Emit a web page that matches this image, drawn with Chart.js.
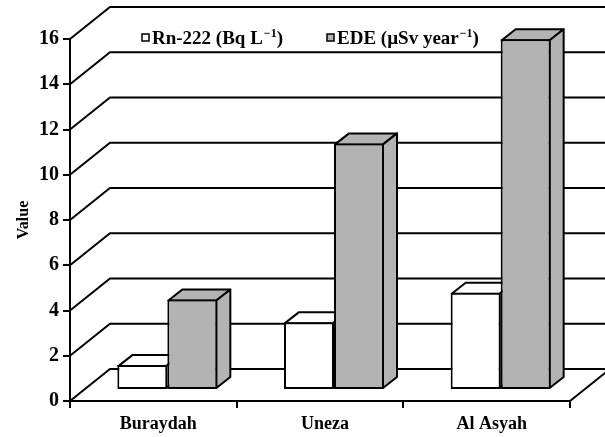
<!DOCTYPE html>
<html>
<head>
<meta charset="utf-8">
<script src="https://cdn.jsdelivr.net/npm/chart.js@4.4.0/dist/chart.umd.min.js"></script>
<style>
html, body { margin: 0; padding: 0; background: #fff; }
</style>
</head>
<body>
<canvas id="chartUI" width="605" height="437"></canvas>
<script>
// Podaci
var categories = ['Buraydah', 'Uneza', 'Al Asyah'];
var rnValues = [1.1, 3.0, 4.3];
var edeValues = [4.0, 10.9, 15.5];
var seriesNames = ['Rn-222 (Bq L', 'EDE (\u00b5Sv year'];
var seriesColors = ['#ffffff', '#b3b3b3'];
var yMin = 0, yMax = 16, yStep = 2;

var FONT = 'Liberation Serif';
var WALL = { dx: 40, dy: -32 };   // dubina zidova
var SHIFT = { dx: 14, dy: -11 };  // ravan prednjih strana stubica
var DEPTH = { dx: 14, dy: -11 };  // debljina stubica

var poly = function(ctx, pts, fill) {
	ctx.beginPath();
	ctx.moveTo(pts[0][0], pts[0][1]);
	for (var i = 1; i < pts.length; i++) ctx.lineTo(pts[i][0], pts[i][1]);
	ctx.closePath();
	ctx.fillStyle = fill;
	ctx.fill();
	ctx.stroke();
}

var drawLegendItem = function(ctx, x, base, color, label) {
	ctx.lineWidth = 1.5;
	ctx.strokeStyle = '#000';
	ctx.fillStyle = color;
	ctx.fillRect(x, base - 10, 7, 7);
	ctx.strokeRect(x, base - 10, 7, 7);
	ctx.fillStyle = '#000';
	ctx.textBaseline = 'alphabetic';
	ctx.textAlign = 'left';
	ctx.font = 'bold 19px "' + FONT + '"';
	var tx = x + 10;
	ctx.fillText(label, tx, base);
	tx += ctx.measureText(label).width;
	ctx.font = 'bold 12px "' + FONT + '"';
	ctx.fillText('\u22121', tx + 1, base - 7);
	tx += ctx.measureText('\u22121').width + 1;
	ctx.font = 'bold 19px "' + FONT + '"';
	ctx.fillText(')', tx, base);
}

// Plugin za 3D izgled
var box3d = {
	id: 'box3d',
	beforeDatasetsDraw: function(chart) {
		var ctx = chart.ctx, a = chart.chartArea, ys = chart.scales.y;
		ctx.save();
		ctx.strokeStyle = '#000';
		ctx.lineWidth = 2;
		ys.ticks.forEach(function(t) {
			var y = ys.getPixelForValue(t.value);
			ctx.beginPath();
			ctx.moveTo(a.left, y);
			ctx.lineTo(a.left + WALL.dx, y + WALL.dy);
			ctx.lineTo(a.right + WALL.dx, y + WALL.dy);
			ctx.stroke();
		});
		ctx.beginPath();
		ctx.moveTo(a.right, a.bottom);
		ctx.lineTo(a.right + WALL.dx, a.bottom + WALL.dy);
		ctx.stroke();

		drawLegendItem(ctx, a.left + 72, 44, seriesColors[0], seriesNames[0]);
		drawLegendItem(ctx, a.left + 257, 44, seriesColors[1], seriesNames[1]);
		ctx.restore();

		// bocne i gornje strane, prednje crta Chart.js
		ctx.save();
		ctx.translate(SHIFT.dx, SHIFT.dy);
		ctx.strokeStyle = '#000';
		ctx.lineWidth = 2;
		ctx.lineJoin = 'round';
		chart.data.datasets.forEach(function(ds, i) {
			chart.getDatasetMeta(i).data.forEach(function(bar) {
				var p = bar.getProps(['x', 'y', 'base', 'width'], true);
				var l = p.x - p.width / 2 + 1, r = p.x + p.width / 2 - 1;
				var t = p.y + 1, b = p.base - 1;
				poly(ctx, [[l, t], [l + DEPTH.dx, t + DEPTH.dy], [r + DEPTH.dx, t + DEPTH.dy], [r, t]], ds.backgroundColor);
				poly(ctx, [[r, t], [r + DEPTH.dx, t + DEPTH.dy], [r + DEPTH.dx, b + DEPTH.dy], [r, b]], ds.backgroundColor);
			});
		});
	},
	afterDatasetsDraw: function(chart) {
		chart.ctx.restore();
	}
};

var makeDataset = function(idx, values) {
	return {
		label: seriesNames[idx],
		data: values,
		backgroundColor: seriesColors[idx],
		borderColor: '#000',
		borderWidth: 2,
		borderSkipped: false,
		categoryPercentage: 0.6,
		barPercentage: 1.0,
		clip: false
	};
}

var chartConfig = {
	type: 'bar',
	data: {
		labels: categories,
		datasets: [makeDataset(0, rnValues), makeDataset(1, edeValues)]
	},
	options: {
		responsive: false,
		animation: false,
		layout: { padding: { top: 39, right: 35, left: 0, bottom: 0 } },
		plugins: {
			legend: { display: false },
			tooltip: { enabled: false }
		},
		scales: {
			x: {
				ticks: { color: '#000', font: { family: FONT, size: 18, weight: 'bold' }, padding: 6, labelOffset: 5, maxRotation: 0 },
				grid: { drawOnChartArea: false, drawTicks: true, tickLength: 7, color: '#000', lineWidth: 2, offset: true },
				border: { display: true, color: '#000', width: 2 },
				afterFit: function(s) { s.height = 36; }
			},
			y: {
				min: yMin,
				max: yMax,
				ticks: { stepSize: yStep, color: '#000', font: { family: FONT, size: 20, weight: 'bold' }, padding: 4 },
				grid: { drawOnChartArea: false, drawTicks: true, tickLength: 7, color: '#000', lineWidth: 2 },
				border: { display: true, color: '#000', width: 2 },
				title: { display: true, text: 'Value', color: '#000', font: { family: FONT, size: 16, weight: 'bold' }, padding: { top: 14, bottom: 0 } },
				afterFit: function(s) { s.width = 70; }
			}
		}
	},
	plugins: [box3d]
};

var chart = new Chart(document.getElementById('chartUI'), chartConfig);
</script>
</body>
</html>
